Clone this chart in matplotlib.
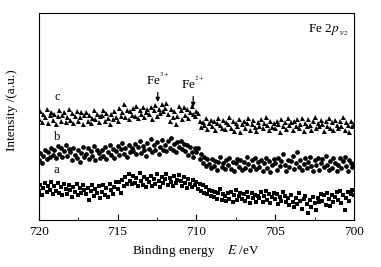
import matplotlib.pyplot as plt
import numpy as np
from matplotlib.ticker import MultipleLocator

plt.rcParams['font.family'] = ['Liberation Serif', 'DejaVu Serif']
plt.rcParams['mathtext.fontset'] = 'stix'

# binding energy, 720 -> 700 eV in 0.1 eV steps
energie = np.linspace(720, 700, 201)

# Kurve c (Dreiecke), eine Zeile = 1 eV
kurve_c = [
    101, 109, 98, 106, 103, 111, 97, 105, 108, 100,
    106, 96, 104, 110, 99, 105, 108, 98, 103, 111,
    100, 107, 97, 104, 109, 99, 103, 108, 96, 105,
    108, 99, 105, 97, 102, 110, 101, 106, 98, 104,
    105, 110, 99, 107, 102, 96, 106, 101, 109, 103,
    99, 112, 104, 108, 116, 103, 110, 101, 109, 105,
    112, 104, 114, 102, 110, 106, 113, 103, 108, 111,
    106, 113, 101, 110, 115, 104, 111, 107, 116, 109,
    112, 117, 106, 99, 111, 103, 109, 96, 104, 114,
    110, 101, 113, 105, 111, 102, 108, 114, 106, 104,
    109, 107, 99, 93, 98, 95, 102, 91, 97, 100,
    94, 99, 90, 97, 102, 95, 92, 100, 91, 98,
    96, 103, 92, 99, 89, 97, 94, 101, 88, 96,
    99, 92, 97, 102, 90, 96, 100, 93, 89, 98,
    94, 101, 92, 97, 103, 95, 90, 99, 93, 97,
    92, 99, 96, 88, 101, 94, 98, 91, 102, 95,
    98, 90, 99, 94, 101, 92, 96, 102, 89, 97,
    94, 101, 95, 90, 99, 103, 92, 97, 94, 100,
    96, 89, 99, 94, 102, 92, 98, 90, 100, 95,
    92, 99, 94, 103, 90, 98, 95, 88, 99, 94,
    96,
]

# Kurve b (Kreise)
kurve_b = [
    60, 67, 57, 64, 70, 61, 68, 63, 72, 65,
    70, 62, 74, 66, 72, 63, 69, 75, 64, 71,
    68, 60, 72, 65, 62, 70, 58, 67, 73, 63,
    66, 72, 61, 69, 64, 74, 60, 70, 67, 62,
    70, 64, 73, 61, 68, 75, 65, 71, 62, 69,
    74, 65, 71, 77, 66, 72, 63, 75, 68, 72,
    69, 76, 66, 73, 79, 67, 74, 70, 64, 77,
    71, 81, 68, 75, 70, 78, 66, 73, 80, 70,
    75, 69, 79, 72, 82, 70, 76, 68, 78, 73,
    79, 71, 76, 69, 75, 65, 73, 68, 63, 72,
    68, 72, 61, 66, 57, 63, 54, 61, 56, 52,
    61, 54, 59, 50, 58, 63, 53, 57, 51, 60,
    55, 62, 51, 58, 49, 57, 61, 53, 60, 50,
    58, 52, 63, 56, 50, 60, 54, 62, 51, 58,
    53, 60, 49, 57, 62, 52, 59, 48, 55, 61,
    57, 50, 62, 54, 59, 66, 55, 49, 60, 53,
    59, 64, 51, 57, 68, 53, 60, 50, 56, 62,
    52, 58, 63, 54, 49, 60, 55, 62, 50, 57,
    61, 53, 64, 55, 50, 59, 52, 62, 57, 49,
    55, 62, 52, 59, 63, 54, 49, 60, 57, 53,
    56,
]

# Kurve a (Quadrate)
kurve_a = [
    29, 35, 25, 32, 37, 28, 34, 30, 38, 26,
    34, 29, 37, 27, 33, 25, 36, 31, 26, 35,
    30, 23, 33, 28, 36, 25, 32, 27, 35, 30,
    26, 32, 20, 29, 35, 24, 31, 27, 34, 22,
    28, 35, 25, 32, 23, 36, 30, 26, 33, 38,
    31, 38, 27, 40, 34, 43, 36, 46, 39, 36,
    44, 37, 42, 34, 47, 39, 35, 43, 33, 41,
    38, 44, 34, 41, 36, 46, 39, 33, 43, 37,
    41, 46, 35, 42, 38, 34, 44, 37, 40, 45,
    39, 34, 43, 37, 32, 41, 36, 33, 40, 35,
    38, 31, 36, 29, 35, 27, 33, 26, 30, 24,
    29, 23, 28, 21, 27, 31, 20, 26, 24, 19,
    27, 21, 28, 18, 25, 30, 20, 24, 27, 21,
    26, 19, 28, 23, 17, 27, 22, 25, 18, 24,
    22, 28, 18, 24, 29, 20, 26, 17, 23, 27,
    21, 26, 16, 23, 19, 28, 24, 18, 22, 15,
    25, 18, 13, 22, 16, 27, 19, 11, 21, 24,
    16, 7, 20, 13, 23, 17, 10, 22, 18, 26,
    19, 25, 15, 27, 21, 14, 25, 18, 23, 28,
    20, 29, 17, 25, 10, 22, 28, 19, 26, 30,
    25,
]

fig = plt.figure(figsize=(3.81, 2.67), dpi=100)
ax = fig.add_axes([0.1016, 0.176, 0.8275, 0.775])

ax.plot(energie, kurve_c, '^', color='black', ms=3.6, mew=0)
ax.plot(energie, kurve_b, 'o', color='black', ms=3.4, mew=0)
ax.plot(energie, kurve_a, 's', color='black', ms=3.0, mew=0)

ax.set_xlim(720, 700)
ax.set_ylim(0, 207)
ax.xaxis.set_major_locator(MultipleLocator(5))
ax.xaxis.set_minor_locator(MultipleLocator(2.5))
ax.tick_params(axis='x', which='both', direction='in', top=False, labelsize=9.5, pad=4)
ax.tick_params(axis='x', which='major', length=4.5)
ax.tick_params(axis='x', which='minor', length=2.5)
ax.set_yticks([])
for s in ax.spines.values():
    s.set_linewidth(0.8)

ax.set_xlabel(r"Binding energy    $E$ /eV", fontsize=9.5, labelpad=4)
ax.set_ylabel("Intensity /(a.u.)", fontsize=9.5)
ax.yaxis.set_label_coords(-0.066, 0.53)

ax.text(718.8, 123, "c", fontsize=9, ha='center', va='center')
ax.text(718.8, 83, "b", fontsize=9, ha='center', va='center')
ax.text(718.9, 50, "a", fontsize=9, ha='center', va='center')
ax.text(702.9, 190, r"Fe 2$p_{_{3/2}}$", fontsize=9.5, ha='left', va='center')

ax.annotate(r"Fe$^{^{3+}}$", xy=(712.45, 118), xytext=(712.45, 140),
            fontsize=9.5, ha='center', va='center', zorder=5,
            arrowprops=dict(arrowstyle='-|>', color='black', lw=0.9,
                            mutation_scale=6, shrinkA=1, shrinkB=0))
ax.annotate(r"Fe$^{^{2+}}$", xy=(710.2, 113), xytext=(710.2, 136),
            fontsize=9.5, ha='center', va='center', zorder=5,
            arrowprops=dict(arrowstyle='-|>', color='black', lw=0.9,
                            mutation_scale=6, shrinkA=1, shrinkB=0))

fig.savefig("out.png", dpi=100)
